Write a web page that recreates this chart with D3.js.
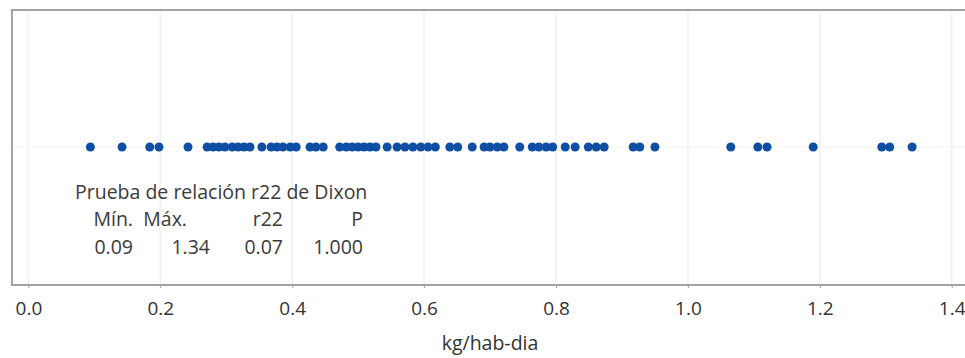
<!DOCTYPE html>
<html>
<head>
<meta charset="utf-8">
<script src="https://cdn.jsdelivr.net/npm/d3@7"></script>
<style>
  body { margin: 0; background: #fff; }
  svg { display: block; font-family: "Open Sans", sans-serif; }
</style>
</head>
<body>
<svg id="chart" width="965" height="358"></svg>
<script>
// kg/hab-dia values
const values = [
  0.094, 0.142, 0.184, 0.198, 0.242,
  0.271, 0.280, 0.289, 0.298, 0.309, 0.318, 0.327, 0.336,
  0.354, 0.368, 0.377, 0.386, 0.397, 0.406,
  0.427, 0.436, 0.447,
  0.472, 0.482, 0.491, 0.500, 0.509, 0.518, 0.527,
  0.544, 0.559, 0.571, 0.583, 0.595, 0.606, 0.617,
  0.639, 0.651, 0.673, 0.691, 0.700, 0.711, 0.721,
  0.745, 0.764, 0.774, 0.785, 0.795, 0.814, 0.829,
  0.849, 0.861, 0.873, 0.917, 0.927, 0.950,
  1.065, 1.106, 1.120, 1.190, 1.294, 1.306, 1.340
];
const xTicks = [0.0, 0.2, 0.4, 0.6, 0.8, 1.0, 1.2, 1.4];
const testTitle = "Prueba de relación r22 de Dixon";
const testHeaders = ["Mín.", "Máx.", "r22", "P"];
const testValues = ["0.09", "1.34", "0.07", "1.000"];
const axisTitle = "kg/hab-dia";

const svg = d3.select("#chart");
const frame = { left: 12, top: 10, right: 972, bottom: 285 };
const dotY = 147;

const x = d3.scaleLinear().domain([0, 1.4]).range([28.4, 951.7]);

// grid
svg.append("g")
  .selectAll("line")
  .data(xTicks)
  .join("line")
  .attr("x1", d => x(d)).attr("x2", d => x(d))
  .attr("y1", frame.top).attr("y2", frame.bottom)
  .attr("stroke", "#f0f0f0")
  .attr("stroke-width", 1.5);

svg.append("line")
  .attr("x1", frame.left).attr("x2", frame.right)
  .attr("y1", dotY).attr("y2", dotY)
  .attr("stroke", "#f6f1ec");

// frame
svg.append("rect")
  .attr("x", frame.left).attr("y", frame.top)
  .attr("width", frame.right - frame.left)
  .attr("height", frame.bottom - frame.top)
  .attr("fill", "none")
  .attr("stroke", "#a3a3a3")
  .attr("stroke-width", 2);

// axis
const xAxis = svg.append("g")
  .attr("transform", `translate(0,${frame.bottom})`)
  .call(d3.axisBottom(x).tickValues(xTicks).tickFormat(d3.format(".1f")).tickSize(3).tickPadding(14));
xAxis.select(".domain").remove();
xAxis.selectAll(".tick line").attr("stroke", "#a3a3a3");
xAxis.selectAll(".tick text")
  .attr("font-family", "Open Sans, sans-serif")
  .attr("font-size", 19)
  .attr("fill", "#333");

svg.append("text")
  .attr("x", 490)
  .attr("y", 350)
  .attr("text-anchor", "middle")
  .attr("font-size", 19.5)
  .attr("fill", "#333")
  .text(axisTitle);

// dots
svg.append("g")
  .selectAll("circle")
  .data(values)
  .join("circle")
  .attr("cx", d => x(d))
  .attr("cy", dotY)
  .attr("r", 4.5)
  .attr("fill", "#0e4fa5");

// Dixon test table
const tbl = svg.append("g").attr("fill", "#3a3a3a").attr("font-size", 19.5);
tbl.append("text").attr("x", 75).attr("y", 199).text(testTitle);
const headRight = [133, 187, 283, 363];
const valRight = [133, 210, 283, 363];
tbl.selectAll(".h").data(testHeaders).join("text")
  .attr("class", "h")
  .attr("x", (d, i) => headRight[i]).attr("y", 226)
  .attr("text-anchor", "end").text(d => d);
tbl.selectAll(".v").data(testValues).join("text")
  .attr("class", "v")
  .attr("x", (d, i) => valRight[i]).attr("y", 254)
  .attr("text-anchor", "end").text(d => d);
</script>
</body>
</html>
